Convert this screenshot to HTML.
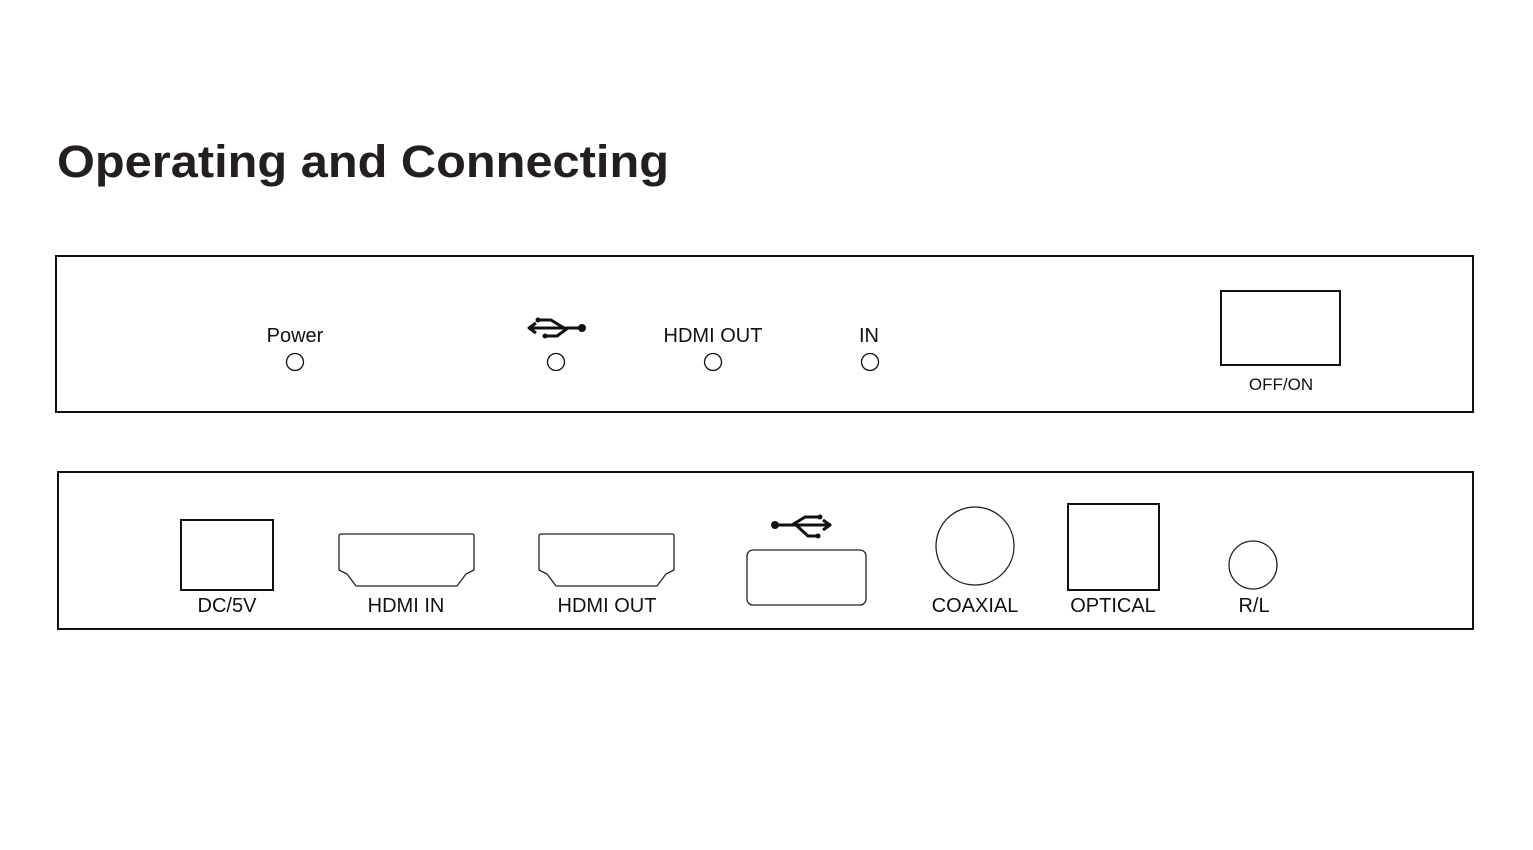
<!DOCTYPE html>
<html><head><meta charset="utf-8"><style>
html,body{margin:0;padding:0;background:#fff;width:1533px;height:850px;overflow:hidden}
svg{display:block}
</style></head><body>
<svg width="1533" height="850" viewBox="0 0 1533 850" xmlns="http://www.w3.org/2000/svg" font-family="Liberation Sans, Arial, sans-serif">
<text x="57" y="177" font-size="45" font-weight="bold" textLength="612" lengthAdjust="spacingAndGlyphs" fill="#231f20" font-family="Liberation Sans, Arial, sans-serif">Operating and Connecting</text>

<rect x="56" y="256" width="1417" height="156" fill="none" stroke="#111" stroke-width="2"/>
<g font-size="20" text-anchor="middle" fill="#111" font-family="Liberation Sans, Arial, sans-serif">
<text x="295" y="342">Power</text>
<text x="713" y="342">HDMI OUT</text>
<text x="869" y="342">IN</text>
</g>
<g fill="none" stroke="#111" stroke-width="1.3">
<circle cx="295" cy="362" r="8.5"/>
<circle cx="556" cy="362" r="8.5"/>
<circle cx="713" cy="362" r="8.5"/>
<circle cx="870" cy="362" r="8.5"/>
</g>
<g stroke="#111" stroke-width="3" fill="none" stroke-linejoin="round">
<line x1="530" y1="328" x2="582" y2="328"/>
<polyline points="538,320 551,320 564,328"/>
<polyline points="545,336 557,336 568,328"/>
<polyline points="536,323 529,328 536,333"/>
</g>
<g fill="#111"><circle cx="582" cy="328" r="4"/><circle cx="538" cy="320" r="2.5"/><circle cx="545" cy="336" r="2.5"/></g>

<rect x="1221" y="291" width="119" height="74" fill="none" stroke="#111" stroke-width="2"/>
<text x="1281" y="390" font-size="17" text-anchor="middle" fill="#111" font-family="Liberation Sans, Arial, sans-serif">OFF/ON</text>

<rect x="58" y="472" width="1415" height="157" fill="none" stroke="#111" stroke-width="2"/>
<rect x="181" y="520" width="92" height="70" fill="none" stroke="#111" stroke-width="2"/>
<g fill="none" stroke="#222" stroke-width="1.3">
<path d="M341,534 H472 Q474,534 474,536 V570 L466,574 L457,586 H356 L347,574 L339,570 V536 Q339,534 341,534 Z"/>
<path d="M541,534 H672 Q674,534 674,536 V570 L666,574 L657,586 H556 L547,574 L539,570 V536 Q539,534 541,534 Z"/>
<rect x="747" y="550" width="119" height="55" rx="6"/>
<circle cx="975" cy="546" r="39"/>
<circle cx="1253" cy="565" r="24"/>
</g>
<rect x="1068" y="504" width="91" height="86" fill="none" stroke="#111" stroke-width="2"/>
<g stroke="#111" stroke-width="3" fill="none" stroke-linejoin="round">
<line x1="775" y1="525" x2="829" y2="525"/>
<polyline points="792,525 805,517 820,517"/>
<polyline points="796,525 808,536 818,536"/>
<polyline points="823,520 830,525 823,530"/>
</g>
<g fill="#111"><circle cx="775" cy="525" r="4"/><circle cx="820" cy="517" r="2.5"/><circle cx="818" cy="536" r="2.5"/></g>

<g font-size="20" text-anchor="middle" fill="#111" font-family="Liberation Sans, Arial, sans-serif">
<text x="227" y="612">DC/5V</text>
<text x="406" y="612">HDMI IN</text>
<text x="607" y="612">HDMI OUT</text>
<text x="975" y="612">COAXIAL</text>
<text x="1113" y="612">OPTICAL</text>
<text x="1254" y="612">R/L</text>
</g>
</svg>
</body></html>
